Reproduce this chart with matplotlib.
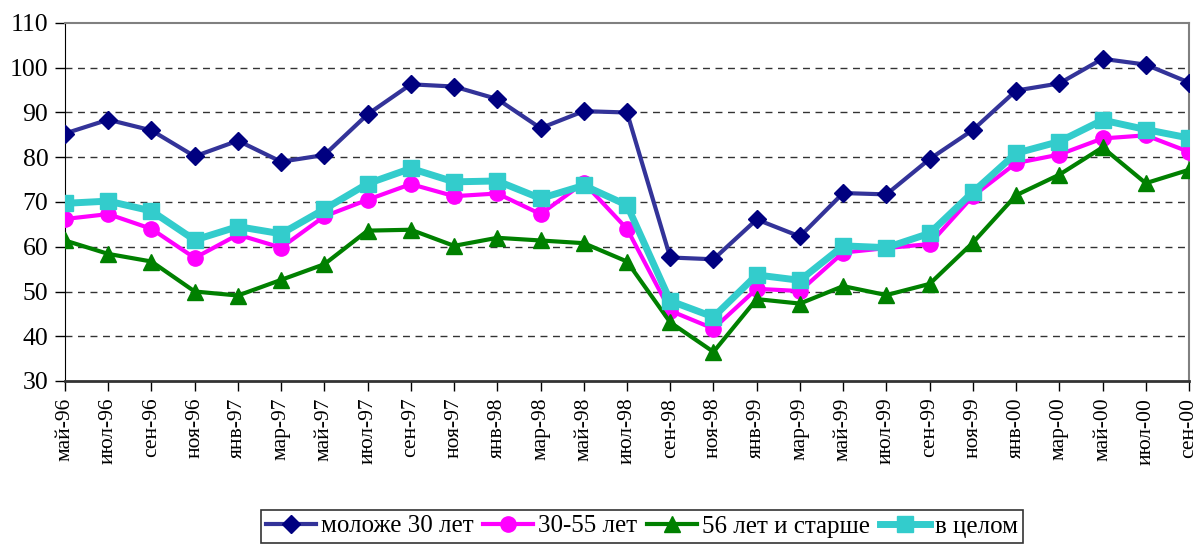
import matplotlib
matplotlib.use("Agg")
import matplotlib.pyplot as plt

plt.rcParams['font.family'] = ['Liberation Serif', 'DejaVu Serif']

categories = ["май-96", "июл-96", "сен-96", "ноя-96", "янв-97", "мар-97", "май-97",
              "июл-97", "сен-97", "ноя-97", "янв-98", "мар-98", "май-98", "июл-98",
              "сен-98", "ноя-98", "янв-99", "мар-99", "май-99", "июл-99", "сен-99",
              "ноя-99", "янв-00", "мар-00", "май-00", "июл-00", "сен-00"]

young = [85.3, 88.4, 86.0, 80.2, 83.7, 79.0, 80.5, 89.6, 96.3, 95.8, 93.0, 86.5, 90.3,
         90.0, 57.6, 57.2, 66.1, 62.3, 72.0, 71.7, 79.6, 86.1, 94.9, 96.5, 102.0, 100.7, 96.7]
middle = [66.2, 67.3, 64.0, 57.5, 62.7, 59.8, 66.8, 70.5, 74.0, 71.3, 71.9, 67.3, 74.3,
          64.0, 45.7, 41.7, 50.6, 50.1, 58.7, 59.7, 60.6, 71.3, 78.7, 80.6, 84.2, 84.9, 81.2]
older = [61.4, 58.4, 56.7, 50.0, 49.1, 52.6, 56.1, 63.6, 63.8, 60.2, 62.0, 61.4, 60.8,
         56.7, 43.1, 36.5, 48.3, 47.3, 51.2, 49.2, 51.7, 60.9, 71.5, 76.1, 82.2, 74.2, 77.2]
overall = [69.7, 70.2, 68.0, 61.5, 64.5, 62.9, 68.4, 74.1, 77.5, 74.5, 74.7, 70.8, 73.7,
           69.3, 47.9, 44.3, 53.7, 52.5, 60.2, 59.8, 63.0, 72.2, 80.9, 83.5, 88.3, 86.2, 84.3]

labels = ["моложе 30 лет", "30-55 лет", "56 лет и старше", "в целом"]
yticks = [30, 40, 50, 60, 70, 80, 90, 100, 110]

fig = plt.figure(figsize=(11.99, 5.44), dpi=100)
ax = fig.add_axes([65/1199, 1-381/544, (1189-65)/1199, (381-23)/544])

x = list(range(len(categories)))
ax.plot(x, young, color='#333399', lw=3, marker='D', ms=9, mfc='#000080', mec='#000080',
        label=labels[0], zorder=3)
ax.plot(x, middle, color='#FF00FF', lw=3, marker='o', ms=11, mfc='#FF00FF', mec='#FF00FF',
        label=labels[1], zorder=4)
ax.plot(x, older, color='#008000', lw=3, marker='^', ms=12, mfc='#008000', mec='#008000',
        label=labels[2], zorder=5)
ax.plot(x, overall, color='#33CCCC', lw=5, marker='s', ms=11, mfc='#33CCCC', mec='#33CCCC',
        label=labels[3], zorder=6)

ax.set_xlim(0, len(categories) - 1)
ax.set_ylim(30, 110)
ax.set_yticks(yticks)
ax.set_yticklabels([str(v) for v in yticks], fontsize=18.5)
ax.set_xticks(x)
ax.set_xticklabels(categories, rotation=90, fontsize=15.5)
ax.tick_params(axis='x', direction='out', length=7, width=1, color='black', pad=5)
ax.tick_params(axis='y', direction='out', length=7, width=1, color='black', pad=5)

for v in yticks[1:-1]:
    ax.axhline(v, color='#333333', lw=1, ls=(0, (5, 4)), zorder=1)

ax.spines['left'].set_color('black')
ax.spines['bottom'].set_color('#333333')
ax.spines['bottom'].set_linewidth(2)
ax.spines['top'].set_color('#808080')
ax.spines['right'].set_color('#808080')
ax.spines['top'].set_linewidth(1.5)
ax.spines['right'].set_linewidth(1.5)
for s in ax.spines.values():
    s.set_clip_on(False)

leg = fig.legend(loc='upper center', bbox_to_anchor=(642/1199, 1-510/544), ncol=4,
                 fontsize=18, frameon=True, fancybox=False, edgecolor='black',
                 handlelength=2.0, handletextpad=0.2, columnspacing=0.4,
                 borderpad=0.2, borderaxespad=0)
leg.get_frame().set_linewidth(1.2)

fig.savefig('out.png', dpi=100)
